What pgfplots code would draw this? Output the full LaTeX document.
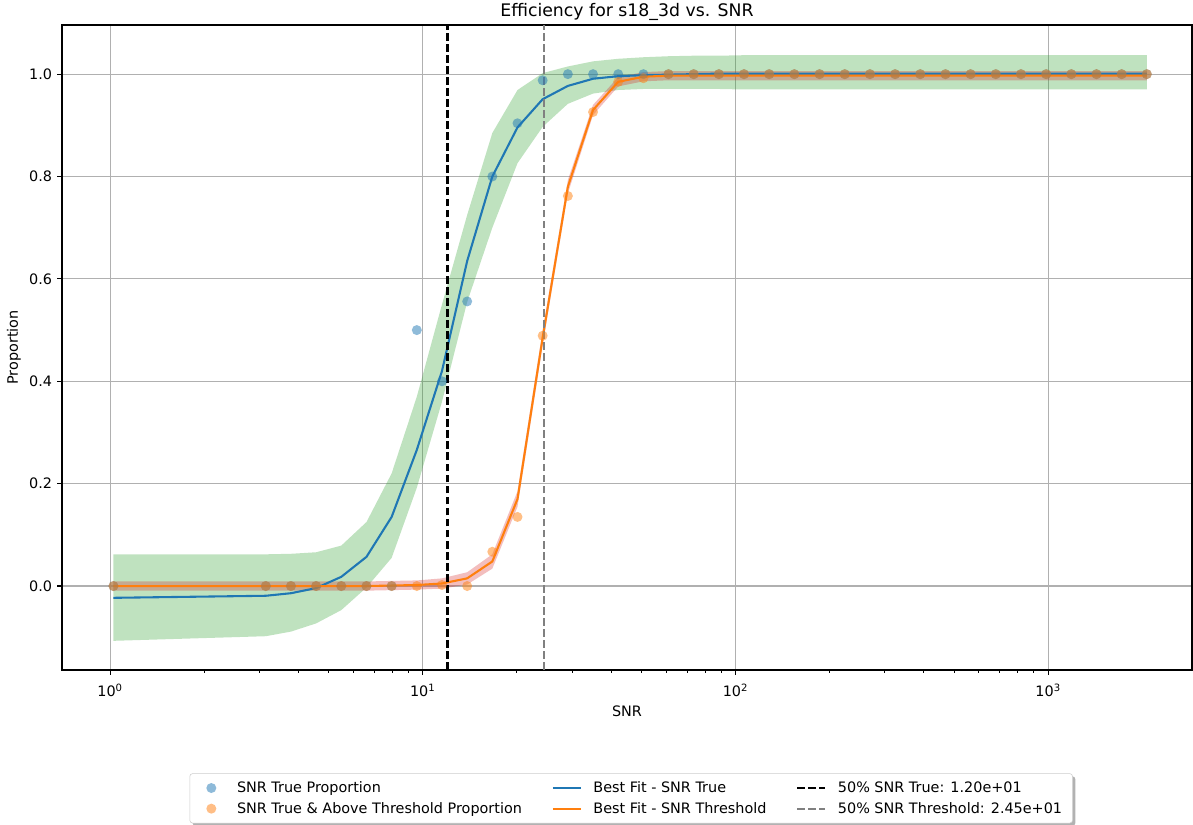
\documentclass[border=0pt]{standalone}
\usepackage{fontspec}
\setmainfont{DejaVu Sans}
\usepackage{pgfplots}
\usepackage{pgfplotstable}
\pgfplotsset{compat=1.18}
\usepgfplotslibrary{fillbetween}
\usetikzlibrary{shadows}

\definecolor{tabblue}{HTML}{1F77B4}
\definecolor{taborange}{HTML}{FF7F0E}
\definecolor{tabgreen}{HTML}{2CA02C}
\definecolor{tabred}{HTML}{D62728}
\definecolor{gridgray}{HTML}{B0B0B0}
\definecolor{legframe}{HTML}{CCCCCC}
\definecolor{midgray}{HTML}{808080}

\newcommand{\legdot}[1]{%
  \begin{pgfscope}%
  \pgfpathmoveto{\pgfpoint{0bp}{0bp}}\pgfpathlineto{\pgfpoint{20bp}{0bp}}\pgfusepath{}%
  \pgfsetfillcolor{#1}\pgfsetfillopacity{0.5}%
  \pgfpathcircle{\pgfpoint{10bp}{0bp}}{3.6bp}\pgfusepath{fill}%
  \end{pgfscope}}
\newcommand{\legline}[1]{%
  \begin{pgfscope}%
  \pgfsetstrokecolor{#1}\pgfsetlinewidth{1.5bp}%
  \pgfpathmoveto{\pgfpoint{0bp}{0bp}}\pgfpathlineto{\pgfpoint{20bp}{0bp}}\pgfusepath{stroke}%
  \end{pgfscope}}
\newcommand{\legdash}[1]{%
  \begin{pgfscope}%
  \pgfsetstrokecolor{#1}\pgfsetlinewidth{1.5bp}\pgfsetdash{{5.55bp}{2.4bp}}{0bp}%
  \pgfpathmoveto{\pgfpoint{0bp}{0bp}}\pgfpathlineto{\pgfpoint{20bp}{0bp}}\pgfusepath{stroke}%
  \end{pgfscope}}

\pgfplotstableread{
x      sT    sA    fT     lo     hi     fA     alo    ahi
1.025  0     0     -0.023 -0.107 0.062  0.000  -0.009 0.009
3.148  0     0     -0.019 -0.098 0.062  0.000  -0.009 0.009
3.789  0     0     -0.014 -0.089 0.063  0.000  -0.009 0.009
4.560  0     0     -0.004 -0.073 0.066  0.000  -0.009 0.009
5.488  0     0     0.018  -0.047 0.079  0.000  -0.009 0.009
6.607  0     0     0.057  -0.003 0.125  0.000  -0.009 0.009
7.952  0     0     0.135  0.055  0.220  0.001  -0.008 0.010
9.572  0.500 0     0.266  0.192  0.370  0.002  -0.007 0.011
11.52  0.400 0.002 0.420  0.360  0.550  0.005  -0.005 0.015
13.87  0.556 0     0.635  0.555  0.725  0.015  0.003  0.027
16.69  0.800 0.067 0.800  0.700  0.885  0.048  0.034  0.062
20.09  0.904 0.135 0.896  0.826  0.969  0.170  0.155  0.185
24.18  0.988 0.489 0.951  0.897  1.002  0.485  0.470  0.500
29.11  1     0.762 0.977  0.942  1.015  0.780  0.767  0.793
35.04  1     0.926 0.991  0.962  1.025  0.930  0.920  0.940
42.17  1     0.985 0.996  0.969  1.030  0.985  0.976  0.994
50.76  1     0.992 0.998  0.971  1.033  0.995  0.986  1.004
61.09  1     1     0.999  0.971  1.035  0.997  0.988  1.006
73.54  1     1     1.000  0.971  1.036  0.997  0.988  1.006
88.51  1     1     1.001  0.971  1.036  0.997  0.988  1.006
106.5  1     1     1.001  0.970  1.037  0.997  0.988  1.006
128.2  1     1     1.001  0.970  1.037  0.997  0.988  1.006
154.3  1     1     1.001  0.970  1.037  0.997  0.988  1.006
185.8  1     1     1.001  0.970  1.037  0.997  0.988  1.006
223.6  1     1     1.001  0.970  1.037  0.997  0.988  1.006
269.2  1     1     1.001  0.970  1.037  0.997  0.988  1.006
324.0  1     1     1.001  0.970  1.037  0.997  0.988  1.006
389.9  1     1     1.001  0.970  1.037  0.997  0.988  1.006
469.4  1     1     1.001  0.970  1.037  0.997  0.988  1.006
564.9  1     1     1.001  0.970  1.037  0.997  0.988  1.006
680.0  1     1     1.001  0.970  1.037  0.997  0.988  1.006
818.5  1     1     1.001  0.970  1.037  0.997  0.988  1.006
985.1  1     1     1.001  0.970  1.037  0.997  0.988  1.006
1185.8 1     1     1.001  0.970  1.037  0.997  0.988  1.006
1427.2 1     1     1.001  0.970  1.037  0.997  0.988  1.006
1717.9 1     1     1.001  0.970  1.037  0.997  0.988  1.006
2067.7 1     1     1.001  0.970  1.037  0.997  0.988  1.006
}\data

\begin{document}
\begin{tikzpicture}
\begin{axis}[
  xmode=log,
  scale only axis,
  width=813.6bp, height=464.4bp,
  xmin=0.702, xmax=2884, ymin=-0.164, ymax=1.096,
  xtick={1,10,100,1000},
  xticklabels={10\textsuperscript{0},10\textsuperscript{1},10\textsuperscript{2},10\textsuperscript{3}},
  ytick={0,0.2,0.4,0.6,0.8,1.0},
  yticklabel style={/pgf/number format/fixed, /pgf/number format/fixed zerofill, /pgf/number format/precision=1, /pgf/number format/assume math mode=true},
  grid=major,
  major grid style={gridgray, line width=0.8bp},
  tick align=outside,
  xtick pos=left, ytick pos=left,
  major tick length=3.5bp, minor tick length=2bp,
  every tick/.style={black, line width=0.8bp},
  minor tick style={black, line width=0.6bp},
  axis line style={line width=0.8bp},
  tick label style={font=\fontsize{10.4}{12}\selectfont},
  xticklabel style={anchor=north, inner sep=0pt, yshift=-6.5bp},
  yticklabel style={anchor=east, inner sep=0pt, xshift=-3.5bp},
  title={Efficiency for s18\_3d vs. SNR},
  title style={at={(0.5,1)}, anchor=base, yshift=0bp, inner sep=0pt, font=\fontsize{12.5}{15}\selectfont},
  xlabel={SNR},
  xlabel style={at={(axis description cs:0.5,0)}, anchor=north, inner sep=0pt, yshift=-25.9bp, font=\fontsize{10.4}{12}\selectfont},
  ylabel={Proportion},
  ylabel style={at={(axis description cs:0,0.5)}, anchor=south, inner sep=0pt, yshift=29.5bp, font=\fontsize{10.4}{12}\selectfont},
  legend columns=3,
  legend cell align=left,
  legend style={at={(0.5,0)}, anchor=north, yshift=-74.4bp, xshift=3bp,
    draw=legframe, fill=white, rounded corners=2bp,
    drop shadow={shadow xshift=2bp, shadow yshift=-2bp, opacity=0.5, fill=black!60},
    font=\fontsize{10.4}{12}\selectfont,
    inner xsep=5.5bp, inner ysep=3.7bp, row sep=1.5bp,
    /tikz/every odd column/.append style={column sep=6.5bp},
    /tikz/every even column/.append style={column sep=19.5bp}},
]
% bands
\addplot[name path=gu, draw=none, forget plot] table[x=x, y=hi]{\data};
\addplot[name path=gl, draw=none, forget plot] table[x=x, y=lo]{\data};
\addplot[tabgreen, fill opacity=0.3, draw=none, forget plot] fill between[of=gu and gl];
\addplot[name path=ou, draw=none, forget plot] table[x=x, y=ahi]{\data};
\addplot[name path=ol, draw=none, forget plot] table[x=x, y=alo]{\data};
\addplot[tabred, fill opacity=0.3, draw=none, forget plot] fill between[of=ou and ol];
% scatter points
\addplot[only marks, mark=*, mark size=3.6bp, mark options={draw=tabblue, draw opacity=0, fill=tabblue, fill opacity=0.5}, forget plot] table[x=x, y=sT]{\data};
\addplot[only marks, mark=*, mark size=3.6bp, mark options={draw=taborange, draw opacity=0, fill=taborange, fill opacity=0.5}, forget plot] table[x=x, y=sA]{\data};
% fit lines
\addplot[tabblue, line width=1.5bp, no marks, forget plot] table[x=x, y=fT]{\data};
\addplot[taborange, line width=1.5bp, no marks, forget plot] table[x=x, y=fA]{\data};
% 50% lines
\addplot[black, line width=1.5bp, dash pattern=on 5.55bp off 2.4bp, forget plot] coordinates {(12.0,-0.164) (12.0,1.096)};
\addplot[midgray, line width=1.5bp, dash pattern=on 5.55bp off 2.4bp, forget plot] coordinates {(24.5,-0.164) (24.5,1.096)};
% legend
\addlegendimage{legend image code/.code={\legdot{tabblue}}}
\addlegendentry{SNR True Proportion}
\addlegendimage{legend image code/.code={\legline{tabblue}}}
\addlegendentry{Best Fit - SNR True}
\addlegendimage{legend image code/.code={\legdash{black}}}
\addlegendentry{50\% SNR True: 1.20e+01}
\addlegendimage{legend image code/.code={\legdot{taborange}}}
\addlegendentry{SNR True \& Above Threshold Proportion}
\addlegendimage{legend image code/.code={\legline{taborange}}}
\addlegendentry{Best Fit - SNR Threshold}
\addlegendimage{legend image code/.code={\legdash{midgray}}}
\addlegendentry{50\% SNR Threshold: 2.45e+01}
\end{axis}
\pgfresetboundingbox
\path (current axis.south west) ++(-44.64bp,-110.88bp) rectangle ++(858.96bp,593.28bp);
\end{tikzpicture}
\end{document}
